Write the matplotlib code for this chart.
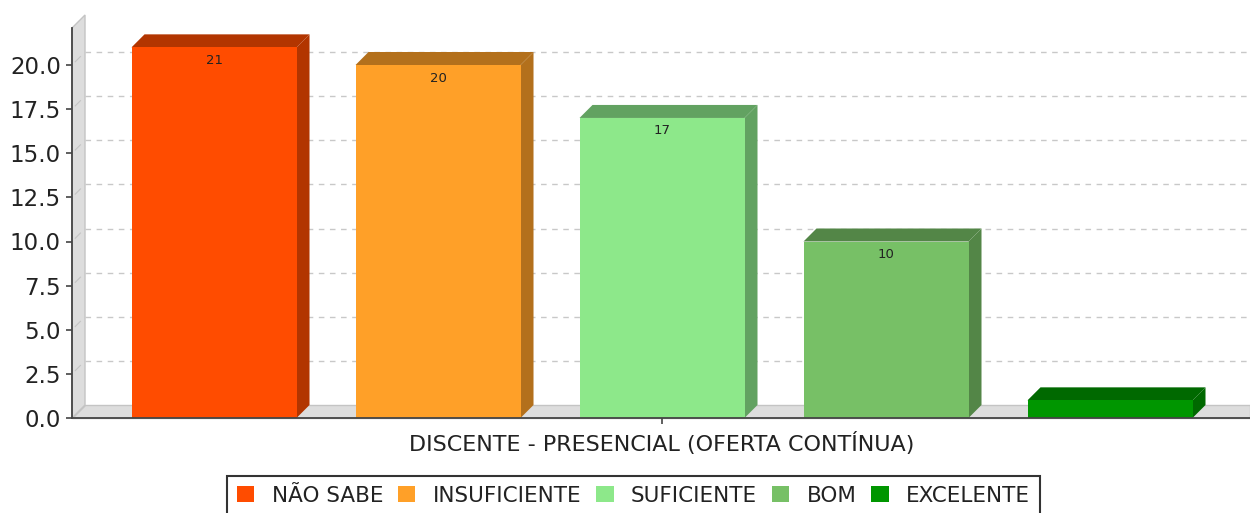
import matplotlib.pyplot as plt
from matplotlib.patches import Polygon, Rectangle, Patch

categories = ['NÃO SABE', 'INSUFICIENTE', 'SUFICIENTE', 'BOM', 'EXCELENTE']
values = [21, 20, 17, 10, 1]
front_colors = ['#ff4c00', '#ffa028', '#8de88a', '#77c066', '#009600']
dark_colors = ['#b23500', '#b3701c', '#62a261', '#538647', '#006900']
group_label = 'DISCENTE - PRESENCIAL (OFERTA CONTÍNUA)'
yticks = [0, 2.5, 5, 7.5, 10, 12.5, 15, 17.5, 20]

W, H, DPI = 1250, 513, 100
fig = plt.figure(figsize=(W / DPI, H / DPI), dpi=DPI)

# plot area in pixels (front plane)
left, right, base, top = 72, 1250, 418, 28
px_per_unit = 17.65
ax = fig.add_axes([left / W, 1 - base / H, (right - left) / W, (base - top) / H])
xmin, xmax = -0.634, 4.625
ymax = (base - top) / px_per_unit
ax.set_xlim(xmin, xmax)
ax.set_ylim(0, ymax)

# 3d depth offset (13 px right and up)
dx = 13 * (xmax - xmin) / (right - left)
dy = 13 / px_per_unit
bar_w = 165 * (xmax - xmin) / (right - left)

# wall + floor
ax.add_patch(Polygon([(xmin, 0), (xmin + dx, dy), (xmin + dx, ymax + dy), (xmin, ymax)],
                     facecolor='#dddddd', edgecolor='#c4c4c4', lw=1, clip_on=False, zorder=0))
ax.add_patch(Polygon([(xmin, 0), (xmax, 0), (xmax, dy), (xmin + dx, dy)],
                     facecolor='#dddddd', edgecolor='#c4c4c4', lw=1, clip_on=False, zorder=0))

for v in yticks[1:]:
    ax.plot([xmin + dx, xmax], [v + dy, v + dy], ls=(0, (4, 4)), color='#c8c8c8', lw=1,
            clip_on=False, zorder=1)
    ax.plot([xmin + 0.25 * dx, xmin + 0.65 * dx], [v + 0.25 * dy, v + 0.65 * dy],
            color='#c4c4c4', lw=0.8, clip_on=False, zorder=1)

for i, (v, fc, dc) in enumerate(zip(values, front_colors, dark_colors)):
    x0, x1 = i - bar_w / 2, i + bar_w / 2
    ax.add_patch(Polygon([(x0, v), (x1, v), (x1 + dx, v + dy), (x0 + dx, v + dy)],
                         facecolor=dc, edgecolor='none', clip_on=False, zorder=2))
    ax.add_patch(Polygon([(x1, 0), (x1 + dx, dy), (x1 + dx, v + dy), (x1, v)],
                         facecolor=dc, edgecolor='none', clip_on=False, zorder=2))
    ax.add_patch(Rectangle((x0, 0), bar_w, v, facecolor=fc, edgecolor='none',
                           clip_on=False, zorder=3))
    if v * px_per_unit > 25:
        ax.text(i, v - 13 / px_per_unit, str(v), ha='center', va='center', fontsize=9.5,
                color='#222222', zorder=4)

for s in ['top', 'right']:
    ax.spines[s].set_visible(False)
for s in ['left', 'bottom']:
    ax.spines[s].set_color('#444444')
    ax.spines[s].set_linewidth(1.3)
    ax.spines[s].set_zorder(5)

ax.set_yticks(yticks)
ax.set_yticklabels([f'{t:.1f}' for t in yticks])
ax.set_xticks([2])
ax.set_xticklabels([group_label])
ax.tick_params(axis='y', length=4, width=1.2, color='#444444', labelsize=16.5,
               labelcolor='#222222', pad=4)
ax.tick_params(axis='x', length=4, width=1.2, color='#444444', labelsize=16,
               labelcolor='#222222', pad=6)

handles = [Patch(facecolor=c, edgecolor='none') for c in front_colors]
leg = fig.legend(handles, categories, loc='upper center', bbox_to_anchor=(633.5 / W, 1 - 476 / H),
                 ncol=5, frameon=True, fancybox=False, edgecolor='black', fontsize=15.5,
                 handlelength=0.8, handleheight=0.8, handletextpad=0.8, columnspacing=0.7,
                 borderpad=0.45, borderaxespad=0)
leg.get_frame().set_linewidth(1.5)
for t in leg.get_texts():
    t.set_color('#222222')

fig.savefig('out.png', dpi=DPI)
